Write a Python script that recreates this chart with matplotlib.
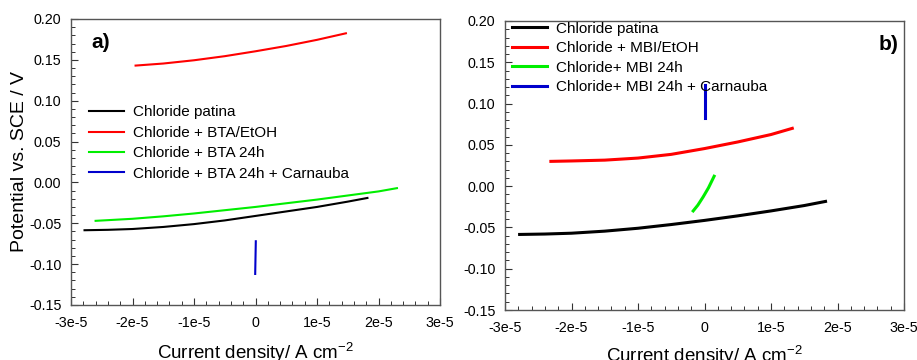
import numpy as np
import matplotlib

matplotlib.use('Agg')
import matplotlib.pyplot as plt
from matplotlib.ticker import MultipleLocator

plt.rcParams['font.family'] = ['Liberation Sans', 'DejaVu Sans']

# ---- panel a) BTA ----
a_black_x = [-2.78e-5, -2.4e-5, -2.0e-5, -1.5e-5, -1.0e-5, -0.5e-5, 0.0, 0.5e-5, 1.0e-5, 1.5e-5, 1.82e-5]
a_black_y = [-0.0585, -0.0580, -0.0570, -0.0545, -0.0510, -0.0465, -0.0410, -0.0355, -0.0300, -0.0235, -0.0190]
a_red_x = [-1.95e-5, -1.5e-5, -1.0e-5, -0.5e-5, 0.0, 0.5e-5, 1.0e-5, 1.47e-5]
a_red_y = [0.1430, 0.1455, 0.1495, 0.1545, 0.1605, 0.1670, 0.1745, 0.1825]
a_green_x = [-2.6e-5, -2.0e-5, -1.5e-5, -1.0e-5, -0.5e-5, 0.0, 0.5e-5, 1.0e-5, 1.5e-5, 2.0e-5, 2.3e-5]
a_green_y = [-0.0470, -0.0445, -0.0415, -0.0380, -0.0340, -0.0300, -0.0255, -0.0210, -0.0160, -0.0110, -0.0070]
a_blue_x = [0.05e-6, -0.05e-6]
a_blue_y = [-0.072, -0.112]

# ---- panel b) MBI ----
b_black_x = [-2.78e-5, -2.4e-5, -2.0e-5, -1.5e-5, -1.0e-5, -0.5e-5, 0.0, 0.5e-5, 1.0e-5, 1.5e-5, 1.82e-5]
b_black_y = [-0.0585, -0.0580, -0.0570, -0.0545, -0.0510, -0.0465, -0.0415, -0.0360, -0.0300, -0.0235, -0.0185]
b_red_x = [-2.31e-5, -2.0e-5, -1.5e-5, -1.0e-5, -0.5e-5, 0.0, 0.5e-5, 1.0e-5, 1.32e-5]
b_red_y = [0.0300, 0.0305, 0.0315, 0.0340, 0.0385, 0.0455, 0.0535, 0.0625, 0.0700]
b_green_x = [-1.7e-6, -1.0e-6, -0.2e-6, 0.6e-6, 1.45e-6]
b_green_y = [-0.0300, -0.0230, -0.0130, -0.0020, 0.0120]
b_blue_x = [0.0, 0.0]
b_blue_y = [0.122, 0.082]

labels_a = ["Chloride patina", "Chloride + BTA/EtOH", "Chloride + BTA 24h",
            "Chloride + BTA 24h + Carnauba"]
labels_b = ["Chloride patina", "Chloride + MBI/EtOH", "Chloride+ MBI 24h",
            "Chloride+ MBI 24h + Carnauba"]
colors = ["#000000", "#ff0000", "#00ee00", "#0000cc"]

xticks = [-3e-5, -2e-5, -1e-5, 0, 1e-5, 2e-5, 3e-5]
xticklabels = ["-3e-5", "-2e-5", "-1e-5", "0", "1e-5", "2e-5", "3e-5"]
yticks = [-0.15, -0.10, -0.05, 0.0, 0.05, 0.10, 0.15, 0.20]
yticklabels = ["-0.15", "-0.10", "-0.05", "0.00", "0.05", "0.10", "0.15", "0.20"]

fig = plt.figure(figsize=(9.17, 3.6), dpi=100)
W, H = 917, 360
ax_a = fig.add_axes([71 / W, 1 - 305 / H, (440 - 71) / W, (305 - 19) / H])
ax_b = fig.add_axes([505 / W, 1 - 310 / H, (904 - 505) / W, (310 - 21) / H])

XLABEL = "Current density/ A cm$^{\\mathregular{-2}}$"


def style(ax):
    ax.set_xlim(-3e-5, 3e-5)
    ax.set_ylim(-0.15, 0.20)
    ax.set_xticks(xticks)
    ax.set_xticklabels(xticklabels)
    ax.set_yticks(yticks)
    ax.set_yticklabels(yticklabels)
    ax.xaxis.set_minor_locator(MultipleLocator(2e-6))
    ax.yaxis.set_minor_locator(MultipleLocator(0.01))
    ax.tick_params(which='both', direction='in', top=False, right=False,
                   labelsize=10.3, colors='#333333', labelcolor='black')
    ax.tick_params(axis='x', which='major', length=5, width=0.8, pad=8)
    ax.tick_params(axis='y', which='major', length=5, width=0.8, pad=7)
    ax.tick_params(which='minor', length=3, width=0.7)
    for s in ax.spines.values():
        s.set_color('#555555')
        s.set_linewidth(1.0)


series_a = [(a_black_x, a_black_y), (a_red_x, a_red_y), (a_green_x, a_green_y), (a_blue_x, a_blue_y)]
for (x, y), c, lab in zip(series_a, colors, labels_a):
    ax_a.plot(x, y, color=c, lw=1.5, label=lab)
style(ax_a)
ax_a.set_ylabel("Potential vs. SCE / V", fontsize=14, labelpad=1)
ax_a.set_xlabel(XLABEL, fontsize=13.5, labelpad=7)
ax_a.text(0.054, 0.95, "a)", transform=ax_a.transAxes, fontsize=15, fontweight='bold',
          va='top', ha='left')
ax_a.legend(loc='upper left', bbox_to_anchor=(0.02, 0.735), frameon=False, fontsize=11,
            handlelength=2.3, handletextpad=0.6, labelspacing=0.42, borderpad=0.2)

series_b = [(b_black_x, b_black_y), (b_red_x, b_red_y), (b_green_x, b_green_y), (b_blue_x, b_blue_y)]
for (x, y), c, lab in zip(series_b, colors, labels_b):
    ax_b.plot(x, y, color=c, lw=2.2, label=lab)
style(ax_b)
ax_b.set_xlabel(XLABEL, fontsize=13.5, labelpad=6)
ax_b.text(0.985, 0.95, "b)", transform=ax_b.transAxes, fontsize=15, fontweight='bold',
          va='top', ha='right')
ax_b.legend(loc='upper left', bbox_to_anchor=(-0.01, 1.035), frameon=False, fontsize=11,
            handlelength=2.3, handletextpad=0.6, labelspacing=0.36, borderpad=0.2)

fig.savefig("out.png", dpi=100)
plt.close(fig)
